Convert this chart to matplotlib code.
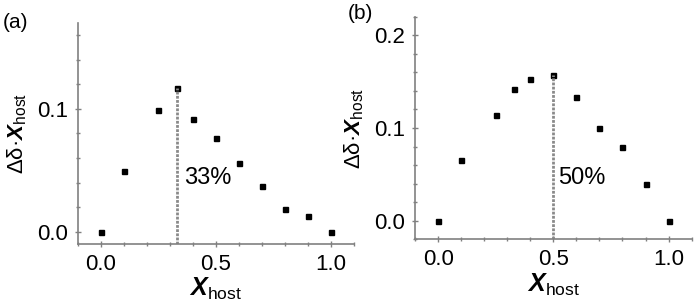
import matplotlib
matplotlib.use("Agg")
import matplotlib.pyplot as plt
from matplotlib.ticker import MultipleLocator

plt.rcParams['font.family'] = ['Liberation Sans', 'DejaVu Sans']
plt.rcParams['mathtext.fontset'] = 'custom'
plt.rcParams['mathtext.rm'] = 'Liberation Sans'
plt.rcParams['mathtext.it'] = 'Liberation Sans:italic'
plt.rcParams['mathtext.bf'] = 'Liberation Sans:bold:italic'

# Panel (a)
xa = [0.0, 0.1, 0.25, 0.33, 0.4, 0.5, 0.6, 0.7, 0.8, 0.9, 1.0]
ya = [0.0, 0.049, 0.099, 0.117, 0.092, 0.076, 0.056, 0.037, 0.0185, 0.013, 0.0]
peak_a = 0.33
label_a = "33%"

# Panel (b)
xb = [0.0, 0.1, 0.25, 0.33, 0.4, 0.5, 0.6, 0.7, 0.8, 0.9, 1.0]
yb = [0.0, 0.0655, 0.114, 0.1424, 0.1529, 0.1568, 0.1331, 0.1, 0.0799, 0.0396, 0.0]
peak_b = 0.5
label_b = "50%"

xticks = [0.0, 0.5, 1.0]
xticklabels = ["0.0", "0.5", "1.0"]

fig = plt.figure(figsize=(7.0, 3.05), dpi=100)
axa = fig.add_axes([0.1114, 0.200, 0.394, 0.7256])
axb = fig.add_axes([0.593, 0.2154, 0.395, 0.730])

spine_c = '#808080'
def style(ax, ylim, yticks, ytl, pk, lab, x, y, peak_y, text_xy):
    ax.plot(x, y, linestyle='none', marker='s', markersize=3.6, color='black')
    ax.plot([pk, pk], [ylim[0], peak_y], linestyle=(0, (1.0, 0.5)), color='#8a8a8a', lw=2.0)
    ax.text(text_xy[0], text_xy[1], lab, fontsize=17, va='center', ha='left')
    ax.set_xlim(-0.1, 1.1)
    ax.set_ylim(*ylim)
    ax.set_xticks(xticks)
    ax.set_xticklabels(xticklabels)
    ax.set_yticks(yticks)
    ax.set_yticklabels(ytl)
    ax.xaxis.set_minor_locator(MultipleLocator(0.1))
    ax.yaxis.set_minor_locator(MultipleLocator(0.02))
    for s in ['top', 'right']:
        ax.spines[s].set_visible(False)
    for s in ['left', 'bottom']:
        ax.spines[s].set_color(spine_c)
        ax.spines[s].set_linewidth(1.2)
    ax.tick_params(which='both', direction='inout', color=spine_c, labelsize=16, pad=5)
    ax.tick_params(which='major', length=4, width=1)
    ax.tick_params(which='minor', length=3, width=1)
    ax.set_xlabel(r'$\mathbf{X}_{\mathrm{host}}$', fontsize=18, labelpad=1)
    ax.set_ylabel(r'Δδ·$\mathbf{X}_{\mathrm{host}}$', fontsize=16, labelpad=6)

style(axa, (-0.01, 0.17), [0.0, 0.1], ["0.0", "0.1"], peak_a, label_a, xa, ya, max(ya), (0.36, 0.044))
style(axb, (-0.02, 0.22), [0.0, 0.1, 0.2], ["0.0", "0.1", "0.2"], peak_b, label_b, xb, yb, max(yb), (0.52, 0.046))

fig.text(0.004, 0.925, "(a)", fontsize=15, ha='left', va='center')
fig.text(0.497, 0.955, "(b)", fontsize=15, ha='left', va='center')

fig.savefig("out.png", dpi=100)
